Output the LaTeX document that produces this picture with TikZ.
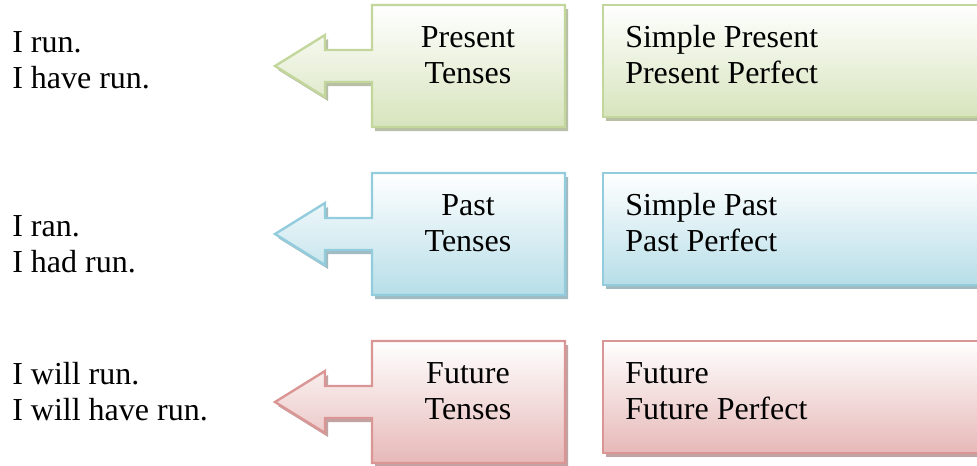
\documentclass[tikz,border=0pt]{standalone}
\usepackage{fontspec}
\setmainfont{Liberation Serif}
\usepackage{tikz}
\usetikzlibrary{positioning}
\definecolor{presline}{HTML}{C3D69B}
\definecolor{presfill}{HTML}{D7E4BD}
\definecolor{pastline}{HTML}{93CDDD}
\definecolor{pastfill}{HTML}{B7DEE8}
\definecolor{futline}{HTML}{D99694}
\definecolor{futfill}{HTML}{E6B9B8}
% callout outline, #1 = vertical offset of the row
\newcommand{\calloutpath}[1]{(372,#1+5) -- (565,#1+5) -- (565,#1+127) -- (372,#1+127) -- (372,#1+82) -- (325,#1+82) -- (325,#1+97) -- (275,#1+66) -- (325,#1+35) -- (325,#1+50) -- (372,#1+50) -- cycle}
% one row: callout and right box, #1 offset, #2 line colour, #3 fill colour
\newcommand{\tenserow}[3]{%
\fill[#2!55!gray,opacity=.8] [shift={(3,4)}] \calloutpath{#1};
\shade[top color=white,bottom color=#3,draw=#2,line width=1.8pt] \calloutpath{#1};
\fill[#2!55!gray,opacity=.8] (606,#1+9) rectangle (990,#1+121);
\shade[top color=white,bottom color=#3,draw=#2,line width=1.8pt] (603,#1+5) rectangle (990,#1+117);}

\begin{document}
\begin{tikzpicture}[x=0.75pt,y=-0.75pt,
  txt/.style={inner sep=0pt,font=\fontsize{24}{27}\selectfont}]
\useasboundingbox (0,0) rectangle (977,465);
\tenserow{0}{presline}{presfill}
\tenserow{168}{pastline}{pastfill}
\tenserow{336}{futline}{futfill}
% left sentences
\node[txt,anchor=west,align=left] (presex) at (12,60) {I run.\\I have run.};
\node[txt,anchor=west,align=left] (pastex) at (12,244) {I ran.\\I had run.};
\node[txt,anchor=west,align=left] (futex) at (12,392) {I will run.\\I will have run.};
% callout labels
\node[txt,align=center] (prescall) at (468,55) {Present\\Tenses};
\node[txt,align=center] (pastcall) at (468,223) {Past\\Tenses};
\node[txt,align=center] (futcall) at (468,391) {Future\\Tenses};
% right boxes
\node[txt,anchor=west,align=left] (presbox) at (625,55) {Simple Present\\Present Perfect};
\node[txt,anchor=west,align=left] (pastbox) at (625,223) {Simple Past\\Past Perfect};
\node[txt,anchor=west,align=left] (futbox) at (625,391) {Future\\Future Perfect};
\end{tikzpicture}
\end{document}
